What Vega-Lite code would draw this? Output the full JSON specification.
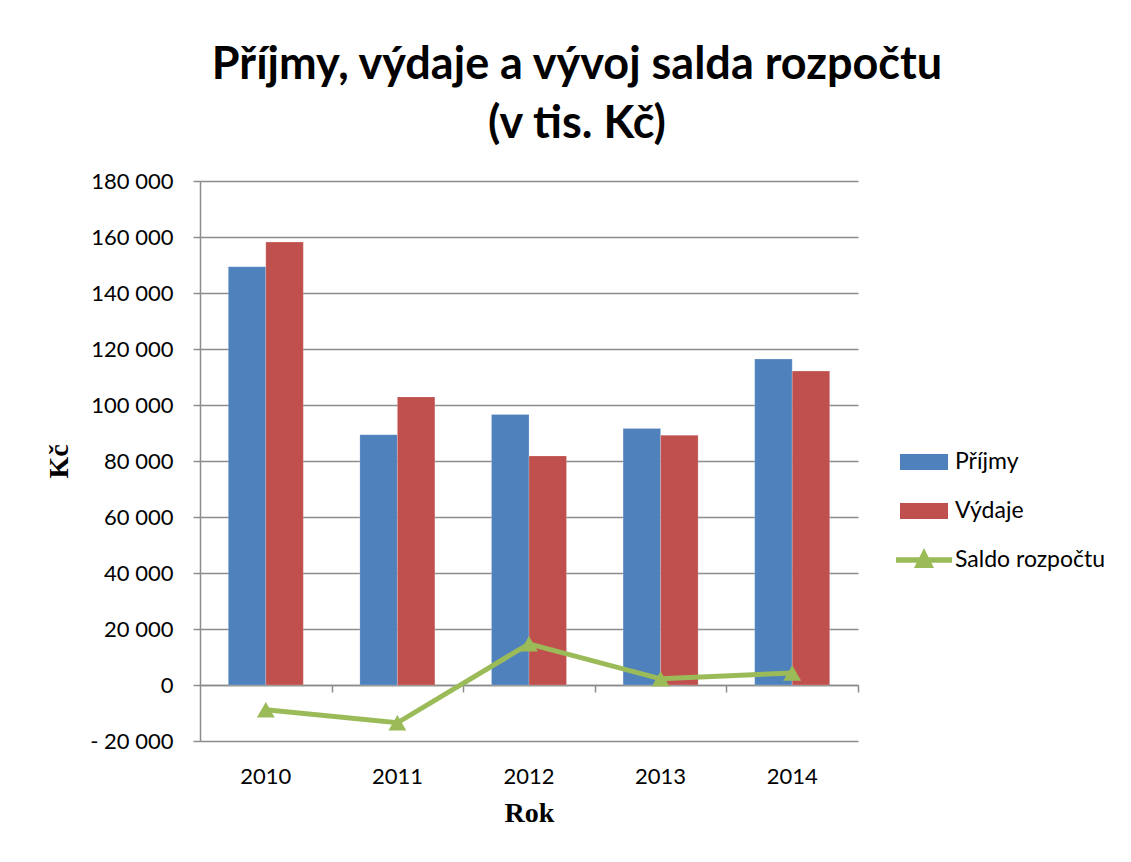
{
  "$schema": "https://vega.github.io/schema/vega-lite/v6.json",
  "width": 658,
  "height": 560,
  "autosize": {"type": "none"},
  "padding": {"left": 200, "top": 181, "right": 273, "bottom": 121},
  "background": "white",
  "title": {
    "text": ["Příjmy, výdaje a vývoj salda rozpočtu", "(v tis. Kč)"],
    "font": "Lato",
    "fontSize": 45,
    "fontWeight": "bold",
    "color": "#000000",
    "anchor": "middle",
    "dx": 48,
    "offset": 23,
    "lineHeight": 59
  },
  "config": {
    "view": {"stroke": null},
    "font": "Lato"
  },
  "datasets": {
    "bars": [
      {"rok": "2010", "typ": "Příjmy", "hodnota": 149400},
      {"rok": "2010", "typ": "Výdaje", "hodnota": 158200},
      {"rok": "2011", "typ": "Příjmy", "hodnota": 89400},
      {"rok": "2011", "typ": "Výdaje", "hodnota": 102900},
      {"rok": "2012", "typ": "Příjmy", "hodnota": 96600},
      {"rok": "2012", "typ": "Výdaje", "hodnota": 81800},
      {"rok": "2013", "typ": "Příjmy", "hodnota": 91600},
      {"rok": "2013", "typ": "Výdaje", "hodnota": 89200},
      {"rok": "2014", "typ": "Příjmy", "hodnota": 116400},
      {"rok": "2014", "typ": "Výdaje", "hodnota": 112100}
    ],
    "saldo": [
      {"rok": "2010", "saldo": -8800},
      {"rok": "2011", "saldo": -13500},
      {"rok": "2012", "saldo": 14700},
      {"rok": "2013", "saldo": 2200},
      {"rok": "2014", "saldo": 4300}
    ]
  },
  "resolve": {"axis": {"x": "independent"}},
  "layer": [
    {
      "data": {"name": "bars"},
      "mark": {"type": "bar", "stroke": "#ffffff", "strokeWidth": 0.5, "strokeOpacity": 0.4},
      "encoding": {
        "x": {
          "field": "rok",
          "type": "nominal",
          "scale": {"paddingInner": 0.43, "paddingOuter": 0.215},
          "axis": {
            "orient": "bottom",
            "title": "Rok",
            "titleFont": "Liberation Serif",
            "titleFontSize": 28,
            "titleFontWeight": "bold",
            "titleColor": "#000000",
            "titlePadding": 12,
            "labelFont": "Lato",
            "labelFontSize": 22,
            "labelColor": "#000000",
            "labelAngle": 0,
            "labelPadding": 25,
            "domain": false,
            "ticks": false,
            "grid": false
          }
        },
        "xOffset": {
          "field": "typ",
          "type": "nominal",
          "scale": {"paddingInner": 0, "paddingOuter": 0}
        },
        "y": {
          "field": "hodnota",
          "type": "quantitative",
          "scale": {"domain": [-20000, 180000], "nice": false, "zero": false},
          "axis": {
            "values": [-20000, 0, 20000, 40000, 60000, 80000, 100000, 120000, 140000, 160000, 180000],
            "labelExpr": "datum.value < 0 ? '- ' + replace(format(-datum.value, ','), ',', ' ') : replace(format(datum.value, ','), ',', ' ')",
            "title": "Kč",
            "titleFont": "Liberation Serif",
            "titleFontSize": 28,
            "titleFontWeight": "bold",
            "titleColor": "#000000",
            "titlePadding": 16,
            "labelFont": "Lato",
            "labelFontSize": 22,
            "labelColor": "#000000",
            "labelPadding": 20,
            "tickSize": 7,
            "tickColor": "#8c8c8c",
            "tickWidth": 1.5,
            "domainColor": "#8c8c8c",
            "domainWidth": 1.5,
            "grid": true,
            "gridColor": "#8c8c8c",
            "gridWidth": 1.5
          }
        },
        "fill": {
          "field": "typ",
          "type": "nominal",
          "scale": {"domain": ["Příjmy", "Výdaje"], "range": ["#4F81BD", "#C0504D"]},
          "legend": {
            "title": null,
            "orient": "none",
            "legendX": 708,
            "legendY": 265,
            "padding": 0,
            "symbolType": "M-1.5,-0.5H1.5V0.5H-1.5Z",
            "symbolSize": 1024,
            "symbolStrokeWidth": 0,
            "labelFont": "Lato",
            "labelFontSize": 23,
            "labelColor": "#000000",
            "labelOffset": 15,
            "rowPadding": 21
          }
        }
      }
    },
    {
      "data": {"name": "saldo"},
      "mark": {"type": "line", "strokeWidth": 5},
      "encoding": {
        "x": {"field": "rok", "type": "nominal", "axis": null},
        "y": {"field": "saldo", "type": "quantitative"},
        "stroke": {
          "datum": "Saldo rozpočtu",
          "type": "nominal",
          "scale": {"range": ["#9BBB59"]},
          "legend": {
            "title": null,
            "orient": "none",
            "legendX": 704,
            "legendY": 359,
            "padding": 0,
            "symbolType": "M-1.4,-0.14H-0.23L0,-0.6L0.23,-0.14H1.4V0.14H0.37L0.5,0.4H-0.5L-0.37,0.14H-1.4Z",
            "symbolSize": 1600,
            "symbolFillColor": "#9BBB59",
            "symbolStrokeWidth": 0,
            "labelFont": "Lato",
            "labelFontSize": 23,
            "labelColor": "#000000",
            "labelOffset": 11
          }
        }
      }
    },
    {
      "data": {"name": "saldo"},
      "mark": {"type": "point", "shape": "triangle-up", "filled": true, "size": 320, "color": "#9BBB59", "opacity": 1},
      "encoding": {
        "x": {
          "field": "rok",
          "type": "nominal",
          "axis": {
            "orient": "bottom",
            "offset": -56,
            "labels": false,
            "title": null,
            "domain": true,
            "domainColor": "#8c8c8c",
            "domainWidth": 1.5,
            "ticks": true,
            "tickOffset": 65.8,
            "tickSize": 7,
            "tickColor": "#8c8c8c",
            "tickWidth": 1.5,
            "grid": false
          }
        },
        "y": {"field": "saldo", "type": "quantitative"}
      }
    }
  ]
}
